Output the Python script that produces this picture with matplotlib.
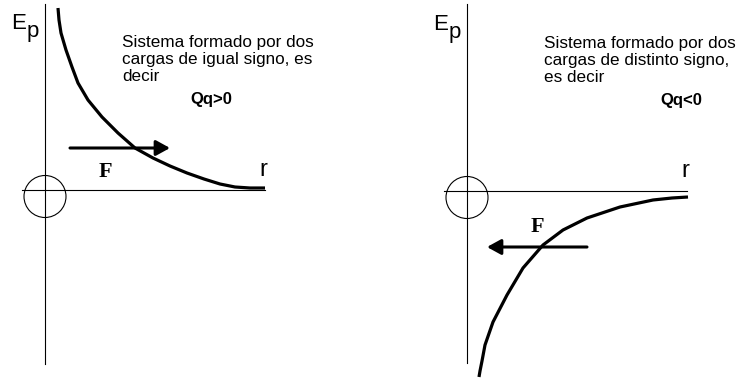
import matplotlib
matplotlib.use('Agg')
import matplotlib.pyplot as plt
from matplotlib.patches import Circle

# Curve: Ep against r (1 unit = 1 pixel, origin at the axes crossing)
left_r = [13, 14, 16, 21, 27, 33, 43, 57, 73, 90, 108, 125, 142, 159, 175, 190, 205, 220]
left_ep = [182, 170, 157, 140, 123, 107, 90, 73, 57, 42, 32, 24, 17, 11, 6, 3, 2, 2]

right_r = [221, 205, 186, 153, 120, 96, 76, 56, 40, 26, 18, 15, 13, 12]
right_ep = [-6, -7, -9, -16, -27, -39, -54, -77, -104, -131, -154, -170, -180, -186]

left_text = 'Sistema formado por dos\ncargas de igual signo, es\ndecir'
right_text = 'Sistema formado por dos\ncargas de distinto signo,\nes decir'
left_sign = 'Qq>0'
right_sign = 'Qq<0'

plt.rcParams['font.family'] = ['Liberation Sans', 'DejaVu Sans']

fig = plt.figure(figsize=(7.43, 3.78), dpi=100)

# Two panels, each one with its origin at the axes crossing
ax1 = fig.add_axes([0, 0, 372 / 743, 1])
ax1.set_xlim(-45, 327)
ax1.set_ylim(-188, 190)

ax2 = fig.add_axes([372 / 743, 0, 371 / 743, 1])
ax2.set_xlim(-95, 276)
ax2.set_ylim(-187, 191)


def draw_panel(ax, r, ep, text, sign, arrow_from, arrow_to, f_pos, v_top, v_bottom):
    ax.axis('off')

    # Axes of the diagram
    ax.plot([0, 0], [v_bottom, v_top], color='black', lw=0.8)
    ax.plot([-23, 220], [0, 0], color='black', lw=0.8)
    ax.add_patch(Circle((0, -6.5), 21, fill=False, color='black', lw=0.8))

    # Energy curve
    ax.plot(r, ep, color='black', lw=2.3, solid_capstyle='butt', solid_joinstyle='round')

    # Force arrow
    ax.annotate('', xy=arrow_to, xytext=arrow_from,
                arrowprops=dict(arrowstyle='-|>,head_length=0.4,head_width=0.22',
                                mutation_scale=21, lw=2.2, color='black',
                                shrinkA=0, shrinkB=0))
    ax.text(f_pos[0], f_pos[1], 'F', fontsize=16, fontweight='bold',
            family='Liberation Serif', ha='center', va='center')

    # Labels
    ax.text(-34, 161, 'E', fontsize=16, ha='left', va='baseline')
    ax.text(-18, 153, 'p', fontsize=16, ha='left', va='baseline')
    ax.text(218, 20, 'r', fontsize=17, ha='center', va='center')

    ax.text(77, 155, text, fontsize=12.3, ha='left', va='top', linespacing=1.17)
    ax.text(sign[1], 86, sign[0], fontsize=12, fontweight='bold',
            ha='center', va='baseline')


draw_panel(ax1, left_r, left_ep, left_text, (left_sign, 166),
           (25, 42), (125, 42), (60, 18), 186, -174)
draw_panel(ax2, right_r, right_ep, right_text, (right_sign, 214),
           (120, -56), (20, -56), (70, -36), 187, -172)

fig.savefig('out.png', dpi=100)
